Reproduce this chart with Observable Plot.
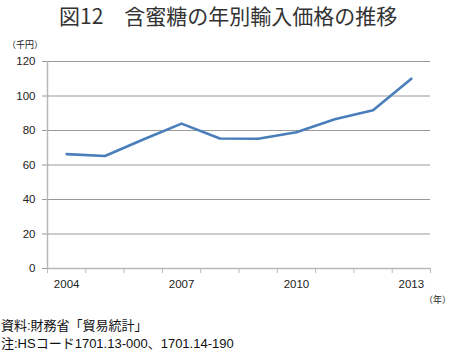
<!DOCTYPE html>
<html>
<head>
<meta charset="utf-8">
<script src="https://cdn.jsdelivr.net/npm/d3@7"></script>
<script src="https://cdn.jsdelivr.net/npm/@observablehq/plot@0.6"></script>
<style>
  html, body { margin: 0; padding: 0; background: #fff; }
  #wrap { position: relative; width: 450px; height: 352px; overflow: hidden; font-family: "Noto Sans CJK JP", "Noto Sans", sans-serif; color: #222; }
  #title { position: absolute; left: 59px; top: 0; font-size: 21px; line-height: 31px; color: #333; white-space: nowrap; }
  #chart { position: absolute; left: 0; top: 32px; }
  .unit { position: absolute; font-size: 9px; line-height: 14px; white-space: nowrap; color: #222; }
  .cap { position: absolute; left: 1px; font-family: "Liberation Sans", "Noto Sans CJK JP", sans-serif; font-size: 13px; line-height: 16px; white-space: nowrap; color: #111; }
</style>
</head>
<body>
<div id="wrap">
  <div id="title">図12　含蜜糖の年別輸入価格の推移</div>
  <div id="chart"></div>
  <div class="unit" style="left:7px; top:38px;">（千円）</div>
  <div class="unit" style="left:424px; top:293px;">（年）</div>
  <div class="cap" style="top:318px;">資料:財務省「貿易統計」</div>
  <div class="cap" style="top:336px;">注:HSコード1701.13-000、1701.14-190</div>
</div>
<script>
const years = [2004, 2005, 2006, 2007, 2008, 2009, 2010, 2011, 2012, 2013];
const prices = [66.3, 65.2, 74.8, 84.0, 75.4, 75.2, 79.0, 86.5, 91.7, 110.0];
const yTicks = [0, 20, 40, 60, 80, 100, 120];
const xLabels = [2004, 2007, 2010, 2013];

const data = years.map((year, i) => ({year, price: prices[i]}));
const edges = years.map(y => y - 0.5).concat([years[years.length - 1] + 0.5]);

const chart = Plot.plot({
  width: 450,
  height: 280,
  marginTop: 29,
  marginBottom: 44,
  marginLeft: 47,
  marginRight: 20,
  x: {domain: [edges[0], edges[edges.length - 1]]},
  y: {domain: [0, 120]},
  style: {fontFamily: "'Liberation Sans', Arial, sans-serif", fontSize: "11.5px", color: "#222", background: "white"},
  marks: [
    Plot.ruleY(yTicks.filter(d => d > 0), {stroke: "#9a9a9a", strokeWidth: 1.2}),
    Plot.ruleY([0], {stroke: "#b8b8b8", strokeWidth: 1.5}),
    Plot.ruleX([edges[0]], {stroke: "#b8b8b8", strokeWidth: 1.5}),
    Plot.axisY({ticks: yTicks, tickSize: 5, tickPadding: 7, label: null, stroke: "#9a9a9a", fill: "#222"}),
    Plot.axisX({ticks: edges, tickSize: 5, tickFormat: () => "", label: null, stroke: "#b8b8b8"}),
    Plot.axisX({ticks: xLabels, tickSize: 0, tickPadding: 11, tickFormat: d => String(d), label: null, fill: "#222"}),
    Plot.line(data, {x: "year", y: "price", stroke: "#4a7ebb", strokeWidth: 2.6})
  ]
});
document.getElementById("chart").appendChild(chart);
</script>
</body>
</html>
